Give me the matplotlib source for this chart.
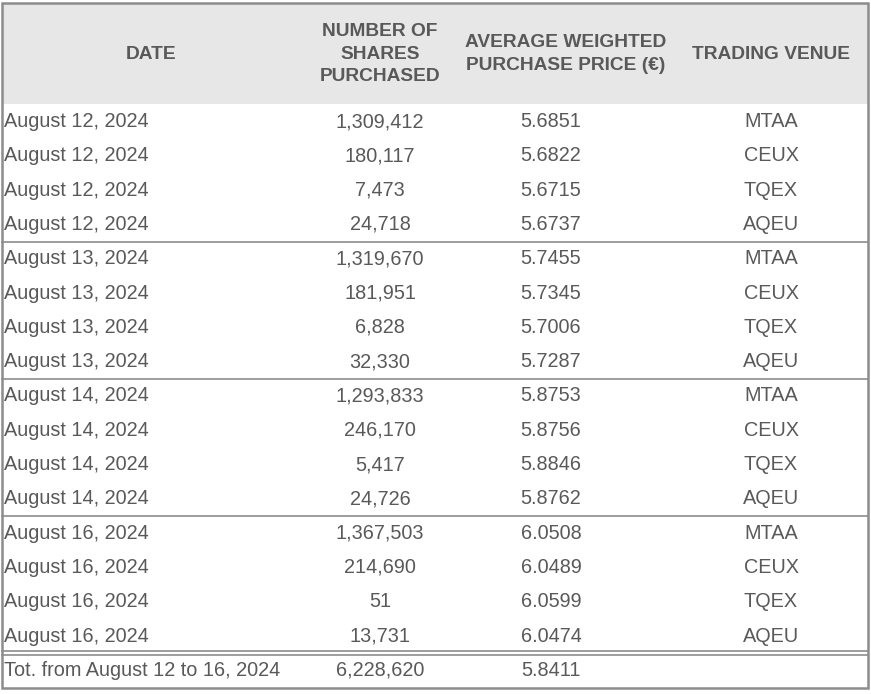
import matplotlib
matplotlib.use("Agg")
import matplotlib.pyplot as plt
from matplotlib.patches import Rectangle

# Table data
DATES = ["August 12, 2024"] * 4 + ["August 13, 2024"] * 4 + \
        ["August 14, 2024"] * 4 + ["August 16, 2024"] * 4
SHARES = ["1,309,412", "180,117", "7,473", "24,718",
          "1,319,670", "181,951", "6,828", "32,330",
          "1,293,833", "246,170", "5,417", "24,726",
          "1,367,503", "214,690", "51", "13,731"]
PRICES = ["5.6851", "5.6822", "5.6715", "5.6737",
          "5.7455", "5.7345", "5.7006", "5.7287",
          "5.8753", "5.8756", "5.8846", "5.8762",
          "6.0508", "6.0489", "6.0599", "6.0474"]
VENUES = ["MTAA", "CEUX", "TQEX", "AQEU"] * 4
TOTAL = ["Tot. from August 12 to 16, 2024", "6,228,620", "5.8411", ""]
HEADERS = ["DATE", "NUMBER OF\nSHARES\nPURCHASED",
           "AVERAGE WEIGHTED\nPURCHASE PRICE (€)", "TRADING VENUE"]

TEXT = "#595959"
LINE = "#8c8c8c"
HEAD_BG = "#e7e7e7"
FONT = "Liberation Sans"
FS = 14.3

fig = plt.figure(figsize=(8.71, 6.94), dpi=100)
ax = fig.add_axes([0, 0, 1, 1])
ax.set_xlim(0, 871)
ax.set_ylim(694, 0)
ax.axis("off")

# header block
ax.add_patch(Rectangle((2, 3), 866, 101, facecolor=HEAD_BG, edgecolor="none"))
head_x = [151, 380, 566, 771]
for x, h in zip(head_x, HEADERS):
    ax.text(x, 54, h, ha="center", va="center", fontsize=13.8, color=TEXT,
            fontfamily=FONT, fontweight="bold", linespacing=1.45)

col_x = [4, 380, 551, 771]
step = 34.3
y0 = 121.5
rows = list(zip(DATES, SHARES, PRICES, VENUES))
for i, r in enumerate(rows + [tuple(TOTAL)]):
    y = y0 + step * i
    for j, (x, s) in enumerate(zip(col_x, r)):
        ax.text(x, y, s, ha="left" if j == 0 else "center", va="center",
                fontsize=FS, color=TEXT, fontfamily=FONT)

# group separators
for g in (4, 8, 12):
    y = y0 + step * (g - 0.5)
    ax.plot([2, 868], [y, y], color=LINE, lw=1.2)
yt = y0 + step * 15.5
for d in (-2, 2):
    ax.plot([2, 868], [yt + d, yt + d], color=LINE, lw=1.2)

# outer border
ax.add_patch(Rectangle((2, 3), 866, 685, facecolor="none", edgecolor=LINE, lw=1.8))

fig.savefig("out.png", dpi=100)
